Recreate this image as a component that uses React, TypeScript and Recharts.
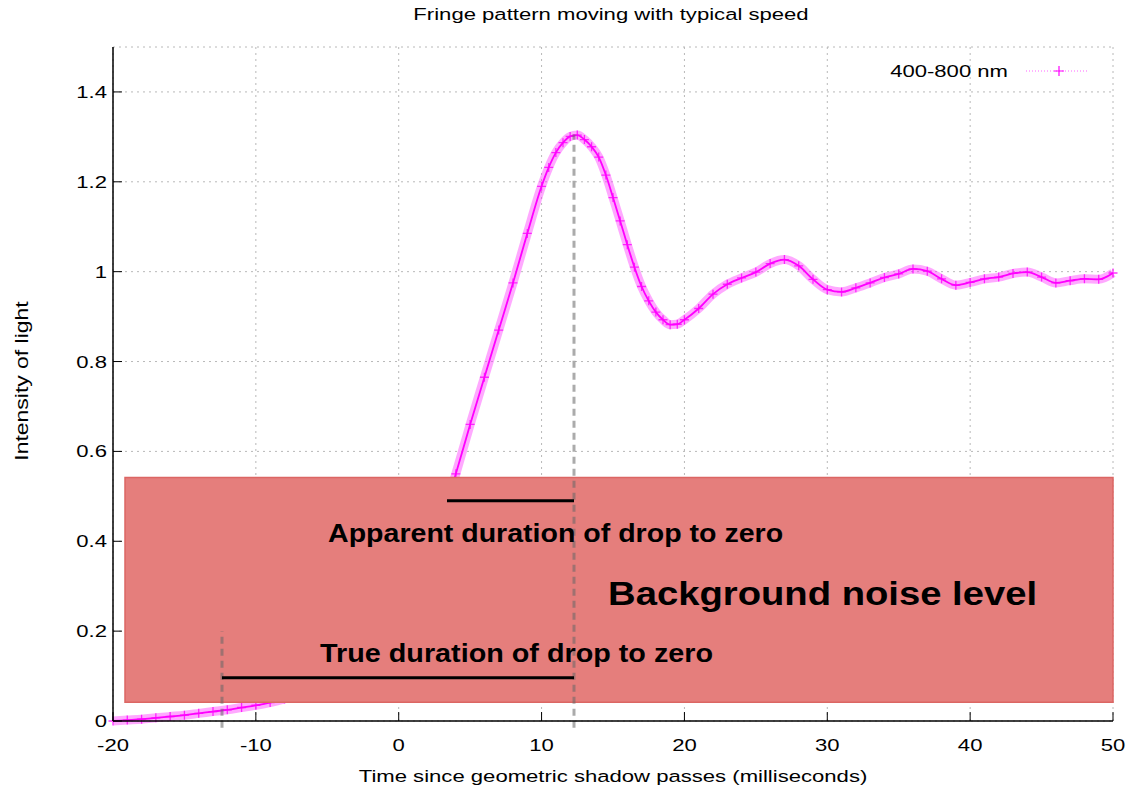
import React from "react";
import {
  LineChart,
  Line,
  XAxis,
  YAxis,
  CartesianGrid,
  ReferenceArea,
  ReferenceLine,
  ReferenceDot,
} from "recharts";

// time since the geometric shadow passes (ms) and the relative light intensity
const timeMs = [
  -20, -19, -18, -17, -16, -15, -14, -13, -12, -11, -10, -9, -8, -7, -6, -5, -4, -3, -2, -1,
  0, 1, 2, 3, 4, 5, 6, 7, 8, 9, 10, 10.5, 11, 11.5, 12, 12.5, 13, 13.5, 14, 14.5, 15, 15.5,
  16, 16.5, 17, 17.5, 18, 18.5, 19, 19.5, 20, 21, 22, 23, 24, 25, 26, 27, 28, 29, 30, 31, 32,
  33, 34, 35, 36, 37, 38, 39, 40, 41, 42, 43, 44, 45, 46, 47, 48, 49, 50,
];
const intensity = [
  0.0, 0.002, 0.004, 0.007, 0.01, 0.013, 0.017, 0.021, 0.025, 0.03, 0.035, 0.041, 0.049, 0.059,
  0.071, 0.086, 0.104, 0.128, 0.158, 0.195, 0.238, 0.29, 0.355, 0.445, 0.55, 0.66, 0.765, 0.87,
  0.975, 1.085, 1.19, 1.232, 1.265, 1.287, 1.301, 1.304, 1.294, 1.278, 1.255, 1.215, 1.165,
  1.113, 1.06, 1.01, 0.967, 0.935, 0.91, 0.893, 0.882, 0.883, 0.893, 0.918, 0.95, 0.972, 0.986,
  0.999, 1.018, 1.027, 1.013, 0.983, 0.96, 0.955, 0.964, 0.975, 0.987, 0.995, 1.006, 1.001,
  0.984, 0.97, 0.976, 0.984, 0.988, 0.996, 0.999, 0.988, 0.975, 0.98, 0.984, 0.983, 0.997,
];

const xTicks = [-20, -10, 0, 10, 20, 30, 40, 50];
const yTicks = [0, 0.2, 0.4, 0.6, 0.8, 1, 1.2, 1.4];

const seriesName = "400-800 nm";
const chartTitle = "Fringe pattern moving with typical speed";
const xTitle = "Time since geometric shadow passes (milliseconds)";
const yTitle = "Intensity of light";

// noise band and the duration markers
const noiseBand = { x1: -19.16, x2: 50, y1: 0.042, y2: 0.542 };
const peakTime = 12.27;
const peakLevel = 1.305;
const trueStart = -12.37;
const trueMarkTop = 0.2;
const trueLevel = 0.096;
const apparentStart = 3.38;
const apparentLevel = 0.49;

const notes = [
  { text: "Apparent duration of drop to zero", x: 10.98, y: 0.398, size: 26, length: 455 },
  { text: "True duration of drop to zero", x: 8.25, y: 0.131, size: 26, length: 393 },
  { text: "Background noise level", x: 29.67, y: 0.258, size: 33, length: 429 },
];

const data = timeMs.map((t, i) => ({ t, v: intensity[i] }));

const FONT = '"Liberation Sans", Arial, Helvetica, sans-serif';
const MAGENTA = "#ff00ff";
const STRETCH = 1.3;
const TICK_LEN = 9;

// layer order: curve < noise band < marker lines < notes < frame
const Z_BAND = 1100;
const Z_MARKS = 1110;
const Z_NOTES = 1130;
const Z_FRAME = 1150;

const BottomTick = (props: any) => {
  const { x, y, payload } = props;
  return (
    <g>
      <line x1={x} y1={y} x2={x} y2={y - TICK_LEN} stroke="#000" />
      <text
        transform={`translate(${x} ${y + 30}) scale(${STRETCH} 1)`}
        textAnchor="middle"
        fontSize={17}
        fontFamily={FONT}
        fill="#000"
      >
        {payload.value}
      </text>
    </g>
  );
};

const TopTick = (props: any) => {
  const { x, y } = props;
  return <line x1={x} y1={y} x2={x} y2={y + TICK_LEN} stroke="#000" />;
};

const LeftTick = (props: any) => {
  const { x, y, payload } = props;
  return (
    <g>
      <line x1={x} y1={y} x2={x + TICK_LEN} y2={y} stroke="#000" />
      <text
        transform={`translate(${x - 6} ${y + 6}) scale(${STRETCH} 1)`}
        textAnchor="end"
        fontSize={17}
        fontFamily={FONT}
        fill="#000"
      >
        {payload.value}
      </text>
    </g>
  );
};

const RightTick = (props: any) => {
  const { x, y } = props;
  return <line x1={x} y1={y} x2={x - TICK_LEN} y2={y} stroke="#000" />;
};

const XTitle = (props: any) => {
  const vb = props.viewBox;
  return (
    <text
      transform={`translate(${vb.x + vb.width / 2} ${vb.y + 61}) scale(${STRETCH} 1)`}
      textAnchor="middle"
      fontSize={17}
      fontFamily={FONT}
      fill="#000"
    >
      {xTitle}
    </text>
  );
};

const YTitle = (props: any) => {
  const vb = props.viewBox;
  return (
    <text
      transform={`translate(28 ${vb.y + vb.height / 2 - 3}) rotate(-90) scale(1.35 1.05)`}
      textAnchor="middle"
      fontSize={17}
      fontFamily={FONT}
      fill="#000"
    >
      {yTitle}
    </text>
  );
};

const PlusMark = (props: any) => {
  const { cx, cy, index } = props;
  if (cx == null || cy == null) return <g key={`m${index}`} />;
  return (
    <path
      key={`m${index}`}
      d={`M${cx - 4.5},${cy}h9M${cx},${cy - 4.5}v9`}
      stroke={MAGENTA}
      strokeOpacity={0.8}
      strokeWidth={1.3}
      fill="none"
    />
  );
};

const noteContent = (text: string, size: number, length: number) => (props: any) => {
  const vb = props.viewBox;
  return (
    <text
      x={vb.x + (vb.width || 0) / 2}
      y={vb.y + (vb.height || 0) / 2}
      textAnchor="middle"
      fontSize={size}
      fontWeight="bold"
      fontFamily={FONT}
      textLength={length}
      lengthAdjust="spacingAndGlyphs"
      fill="#000"
    >
      {text}
    </text>
  );
};

export default function App() {
  return (
    <div
      style={{ position: "absolute", left: 0, top: 0, width: 1131, height: 792, background: "#fff" }}
    >
      <LineChart
        width={1131}
        height={792}
        data={data}
        margin={{ top: 47, right: 18, bottom: 0, left: 0 }}
      >
        <CartesianGrid stroke="#b8b8b8" strokeDasharray="2 4" />
        <XAxis
          dataKey="t"
          type="number"
          domain={[-20, 50]}
          ticks={xTicks}
          interval={0}
          height={71}
          tickSize={0}
          tickMargin={0}
          tickLine={false}
          tick={BottomTick}
          axisLine={{ stroke: "#000", strokeWidth: 1.5 }}
          label={{ content: XTitle }}
          zIndex={Z_FRAME}
        />
        <XAxis
          xAxisId="top"
          orientation="top"
          dataKey="t"
          type="number"
          domain={[-20, 50]}
          ticks={xTicks}
          interval={0}
          height={0}
          tickSize={0}
          tickMargin={0}
          tickLine={false}
          tick={TopTick}
          axisLine={{ stroke: "#000", strokeWidth: 1.5 }}
          zIndex={Z_FRAME}
        />
        <YAxis
          type="number"
          domain={[0, 1.5]}
          ticks={yTicks}
          interval={0}
          width={113}
          tickSize={0}
          tickMargin={0}
          tickLine={false}
          tick={LeftTick}
          axisLine={{ stroke: "#000", strokeWidth: 1.5 }}
          label={{ content: YTitle }}
          zIndex={Z_FRAME}
        />
        <YAxis
          yAxisId="r"
          orientation="right"
          type="number"
          domain={[0, 1.5]}
          ticks={yTicks}
          interval={0}
          width={0}
          tickSize={0}
          tickMargin={0}
          tickLine={false}
          tick={RightTick}
          axisLine={{ stroke: "#000", strokeWidth: 1.5 }}
          zIndex={Z_FRAME}
        />
        <Line
          dataKey="v"
          type="monotone"
          stroke="#ff33ff"
          strokeOpacity={0.42}
          strokeWidth={9}
          dot={false}
          activeDot={false}
          legendType="none"
          isAnimationActive={false}
        />
        <Line
          dataKey="v"
          name={seriesName}
          type="monotone"
          stroke={MAGENTA}
          strokeWidth={1.8}
          dot={PlusMark}
          activeDot={false}
          isAnimationActive={false}
        />
        <ReferenceArea
          x1={noiseBand.x1}
          x2={noiseBand.x2}
          y1={noiseBand.y1}
          y2={noiseBand.y2}
          fill="#e57e7c"
          fillOpacity={1}
          stroke="#dc6663"
          strokeWidth={1.5}
          zIndex={Z_BAND}
        />
        <ReferenceLine
          segment={[
            { x: peakTime, y: -0.015 },
            { x: peakTime, y: peakLevel },
          ]}
          stroke="#666"
          strokeOpacity={0.55}
          strokeWidth={3}
          strokeDasharray="7 5"
          ifOverflow="visible"
          zIndex={Z_MARKS}
        />
        <ReferenceLine
          segment={[
            { x: trueStart, y: -0.015 },
            { x: trueStart, y: trueMarkTop },
          ]}
          stroke="#666"
          strokeOpacity={0.55}
          strokeWidth={3}
          strokeDasharray="7 5"
          ifOverflow="visible"
          zIndex={Z_MARKS}
        />
        <ReferenceLine
          segment={[
            { x: apparentStart, y: apparentLevel },
            { x: peakTime, y: apparentLevel },
          ]}
          stroke="#000"
          strokeWidth={3}
          zIndex={Z_MARKS + 10}
        />
        <ReferenceLine
          segment={[
            { x: trueStart, y: trueLevel },
            { x: peakTime, y: trueLevel },
          ]}
          stroke="#000"
          strokeWidth={3}
          zIndex={Z_MARKS + 10}
        />
        {notes.map((n) => (
          <ReferenceDot
            key={n.text}
            x={n.x}
            y={n.y}
            r={0}
            fill="none"
            stroke="none"
            zIndex={Z_NOTES}
            label={{ content: noteContent(n.text, n.size, n.length) }}
          />
        ))}
      </LineChart>
      <svg
        width={1131}
        height={792}
        style={{ position: "absolute", left: 0, top: 0, pointerEvents: "none" }}
      >
        <text
          transform={`translate(611 20) scale(${STRETCH} 1)`}
          textAnchor="middle"
          fontSize={17}
          fontFamily={FONT}
          fill="#000"
        >
          {chartTitle}
        </text>
        <text
          transform={`translate(1008 77) scale(${STRETCH} 1)`}
          textAnchor="end"
          fontSize={17}
          fontFamily={FONT}
          fill="#000"
        >
          {seriesName}
        </text>
        <line
          x1={1026}
          y1={71}
          x2={1089}
          y2={71}
          stroke={MAGENTA}
          strokeOpacity={0.6}
          strokeDasharray="1 2"
        />
        <path d="M1054,71h10M1059,66v10" stroke={MAGENTA} strokeWidth={1.2} fill="none" />
      </svg>
    </div>
  );
}
